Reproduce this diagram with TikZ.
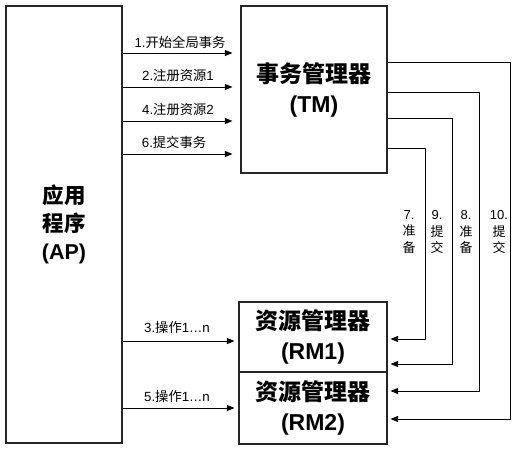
\documentclass[tikz,border=0pt]{standalone}
\usepackage{fontspec}
\setmainfont{Liberation Sans}
\newfontfamily\zh{Noto Sans CJK SC}
\usetikzlibrary{arrows.meta}
\begin{document}
\begin{tikzpicture}[x=1pt,y=-1pt,
  box/.style={draw=black!85,line width=1.1pt,inner sep=0pt,align=center,
    font=\bfseries\fontsize{23}{30}\selectfont},
  arr/.style={draw=black,line width=0.9pt,-{Triangle[length=7.5pt,width=6pt]}},
  lbl/.style={font=\fontsize{13.3}{15}\selectfont,inner sep=0pt},
  vlbl/.style={font=\fontsize{13}{16.5}\selectfont,inner sep=0pt,align=center}]
\useasboundingbox (0,0) rectangle (519,450);
\node[box,minimum width=116pt,minimum height=437pt,font=\bfseries\fontsize{21.5}{28}\selectfont]
  (AP) at (64,224.5) {{\zh\bfseries 应用}\\{\zh\bfseries 程序}\\(AP)};
\node[box,minimum width=146pt,minimum height=167pt] (TM) at (314,89.5) {{\zh\bfseries 事务管理器}\\(TM)};
\node[box,minimum width=148pt,minimum height=70pt] (RM1) at (313,337) {{\zh\bfseries 资源管理器}\\(RM1)};
\node[box,minimum width=148pt,minimum height=72pt] (RM2) at (313,408) {{\zh\bfseries 资源管理器}\\(RM2)};
% AP -> TM
\coordinate (y1) at (0,53);
\coordinate (y2) at (0,87);
\coordinate (y4) at (0,121);
\coordinate (y6) at (0,154);
\coordinate (y3) at (0,341);
\coordinate (y5) at (0,408);
\foreach \c in {y1,y2,y4,y6}{
  \draw[arr,shorten >=8pt] (AP.east |- \c) -- (TM.west |- \c);
}
\draw[arr,shorten >=4pt] (AP.east |- y3) -- (RM1.west |- y3);
\draw[arr,shorten >=4pt] (AP.east |- y5) -- (RM2.west |- y5);
\node[lbl] (l1) at (180,42) {1.{\zh 开始全局事务}};
\node[lbl] (l2) at (178,75) {2.{\zh 注册资源}1};
\node[lbl] (l4) at (178,109) {4.{\zh 注册资源}2};
\node[lbl] (l6) at (174,142) {6.{\zh 提交事务}};
\node[lbl] (l3) at (177,327) {3.{\zh 操作}1…n};
\node[lbl] (l5) at (177,396) {5.{\zh 操作}1…n};
% TM -> RM
\coordinate (a7) at (425,148); \coordinate (b7) at (425,339);
\coordinate (a9) at (452,118); \coordinate (b9) at (452,364);
\coordinate (a8) at (479,92);  \coordinate (b8) at (479,391);
\coordinate (a10) at (510,62); \coordinate (b10) at (510,419);
\draw[arr,shorten >=3pt] (TM.east |- a7) -- (a7) -- (b7) -- (RM1.east |- b7);
\draw[arr,shorten >=3pt] (TM.east |- a9) -- (a9) -- (b9) -- (RM1.east |- b9);
\draw[arr,shorten >=3pt] (TM.east |- a8) -- (a8) -- (b8) -- (RM2.east |- b8);
\draw[arr,shorten >=3pt] (TM.east |- a10) -- (a10) -- (b10) -- (RM2.east |- b10);
\node[vlbl] (v7) at (409,232) {7.\\{\zh 准}\\{\zh 备}};
\node[vlbl] (v9) at (437,232) {9.\\{\zh 提}\\{\zh 交}};
\node[vlbl] (v8) at (466,232) {8.\\{\zh 准}\\{\zh 备}};
\node[vlbl] (v10) at (499,232) {10.\\{\zh 提}\\{\zh 交}};
\end{tikzpicture}
\end{document}
